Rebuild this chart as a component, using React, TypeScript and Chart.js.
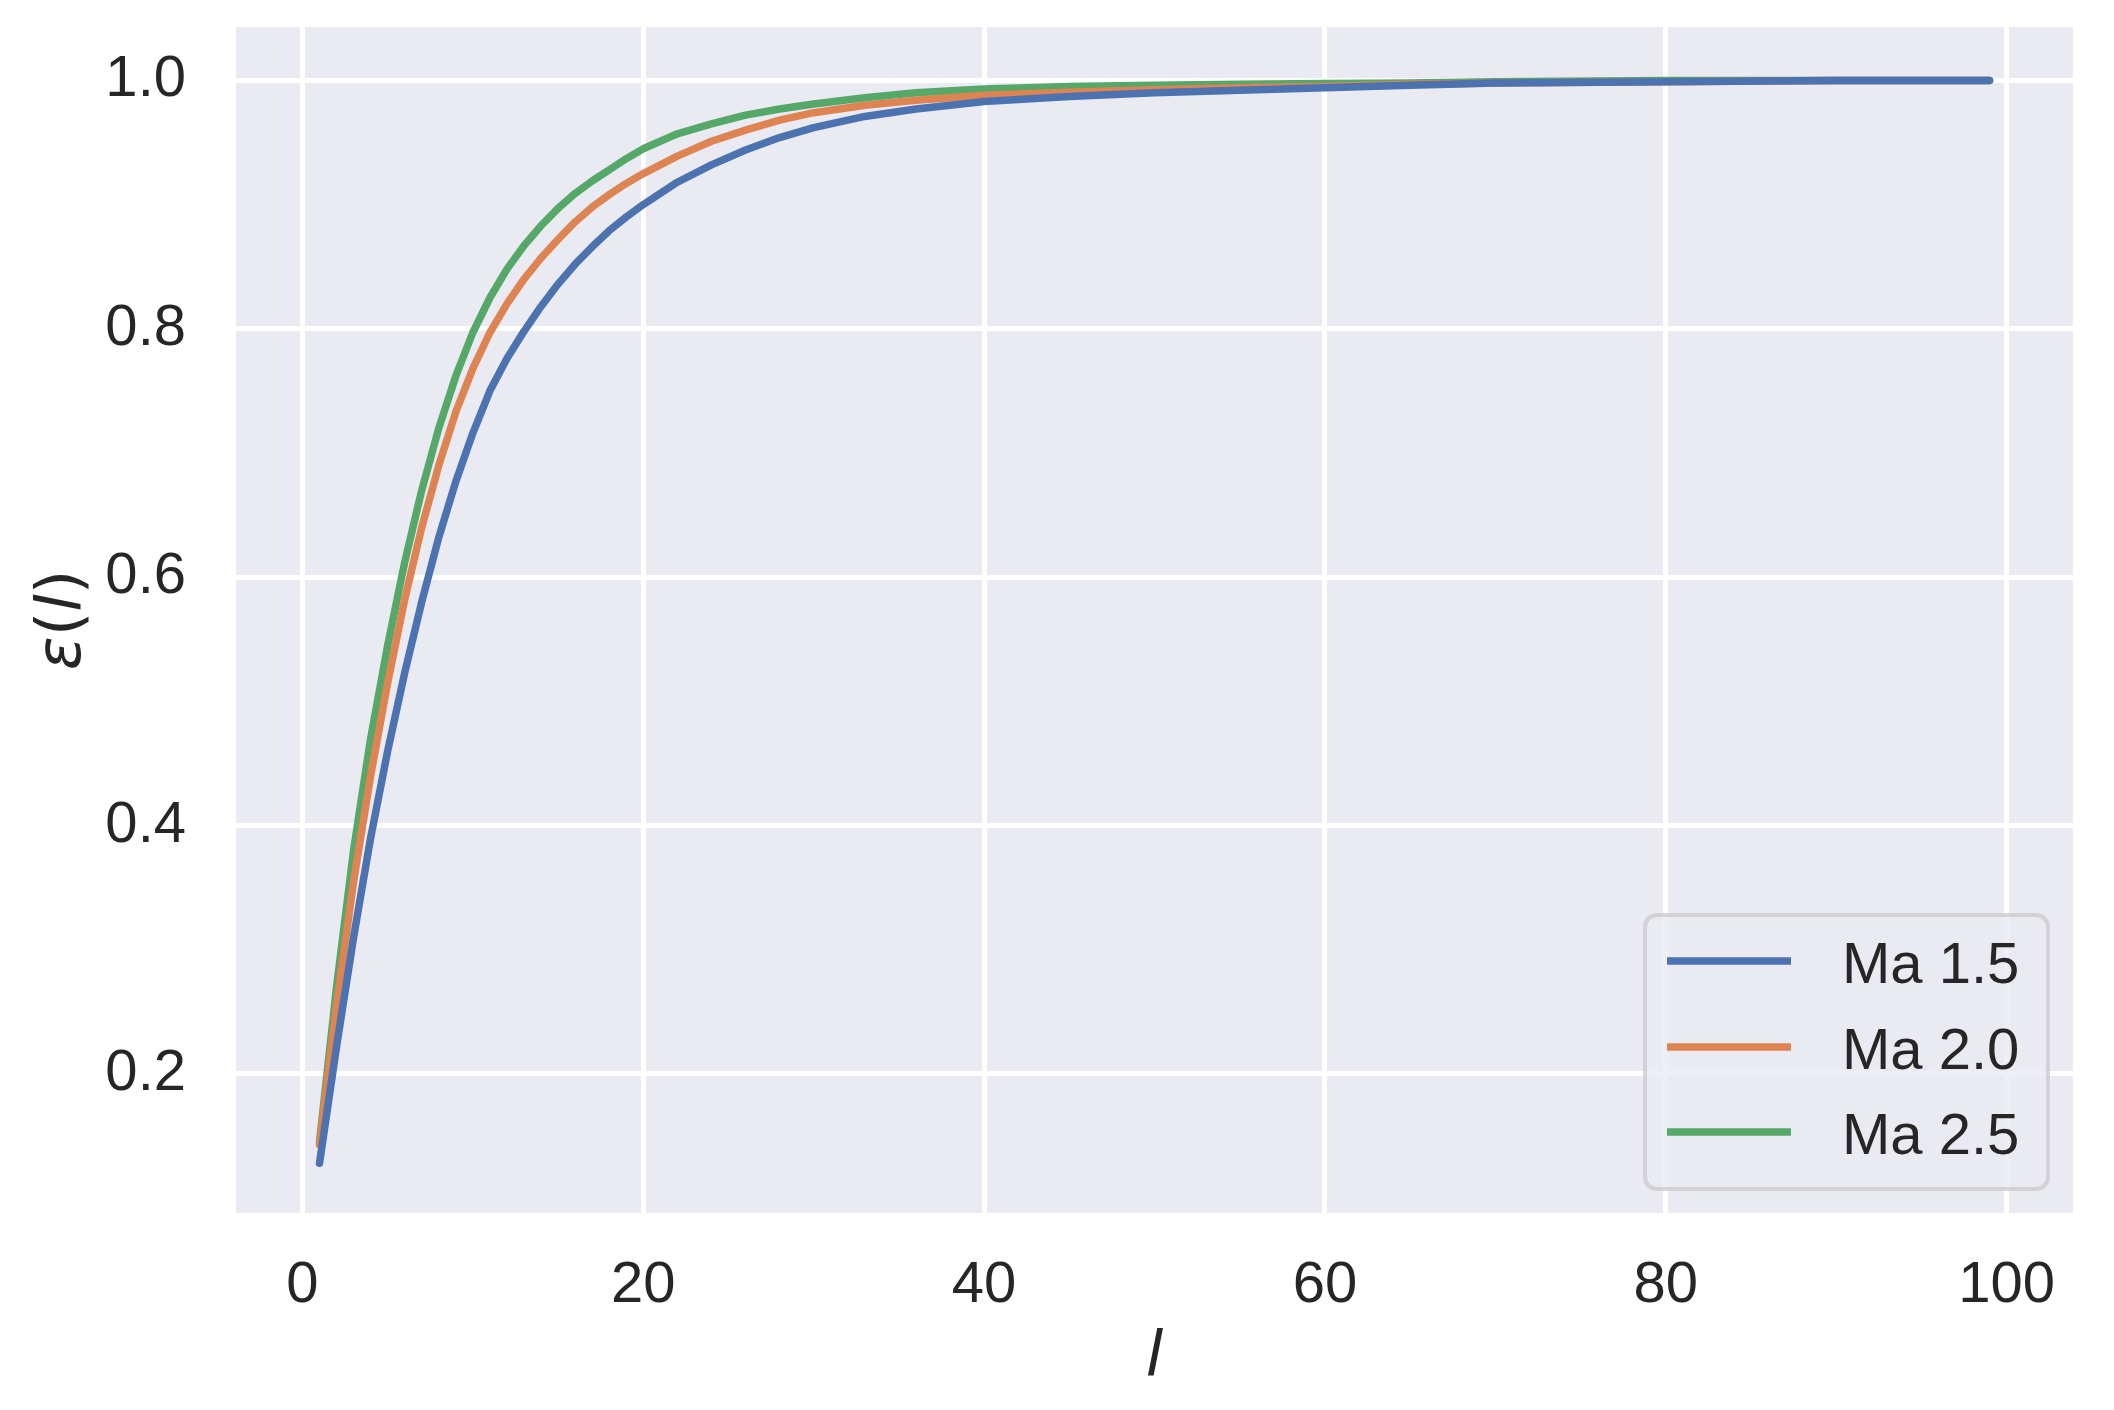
import React, { useEffect, useRef } from 'react';
import { Chart, registerables } from 'chart.js';

Chart.register(...registerables);

const lValues = [1, 2, 3, 4, 5, 6, 7, 8, 9, 10, 11, 12, 13, 14, 15, 16, 17, 18, 19, 20, 22, 24, 26, 28, 30, 33, 36, 40, 45, 50, 55, 60, 65, 70, 80, 90, 99];

const ma15 = [0.128, 0.222, 0.31, 0.39, 0.46, 0.523, 0.58, 0.632, 0.677, 0.716, 0.75, 0.776, 0.798, 0.818, 0.836, 0.852, 0.866, 0.879, 0.89, 0.9, 0.918, 0.932, 0.944, 0.954, 0.962, 0.971, 0.977, 0.983, 0.987, 0.99, 0.992, 0.994, 0.996, 0.998, 0.999, 1.0, 1.0];
const ma20 = [0.143, 0.255, 0.355, 0.44, 0.515, 0.582, 0.64, 0.69, 0.733, 0.768, 0.797, 0.82, 0.84, 0.857, 0.872, 0.886, 0.898, 0.908, 0.917, 0.925, 0.939, 0.951, 0.96, 0.968, 0.974, 0.98, 0.984, 0.988, 0.9905, 0.9925, 0.994, 0.995, 0.997, 0.998, 0.999, 1.0, 1.0];
const ma25 = [0.145, 0.27, 0.38, 0.47, 0.545, 0.612, 0.67, 0.72, 0.762, 0.797, 0.825, 0.848, 0.867, 0.883, 0.897, 0.909, 0.919, 0.928, 0.937, 0.945, 0.957, 0.965, 0.972, 0.977, 0.981, 0.986, 0.99, 0.993, 0.995, 0.996, 0.997, 0.9976, 0.998, 0.999, 1.0, 1.0, 1.0];

const seriesLabels = ['Ma 1.5', 'Ma 2.0', 'Ma 2.5'];
const seriesColors = ['#4C72B0', '#DD8452', '#55A868'];
const xTicks = [0, 20, 40, 60, 80, 100];
const yTicks = [0.2, 0.4, 0.6, 0.8, 1.0];

const TICK_FONT = '"Liberation Sans", Arial, sans-serif';
const MATH_FONT = '"DejaVu Sans", sans-serif';
const TEXT_COLOR = '#262626';

const decorPlugin = {
  id: 'decor',
  beforeDraw(chart: any) {
    const { ctx, chartArea } = chart;
    ctx.save();
    ctx.fillStyle = '#EAEAF2';
    ctx.fillRect(chartArea.left, chartArea.top, chartArea.right - chartArea.left, chartArea.bottom - chartArea.top);
    ctx.restore();
  },
  afterDraw(chart: any) {
    const { ctx, chartArea } = chart;
    ctx.save();
    ctx.fillStyle = TEXT_COLOR;
    ctx.textBaseline = 'alphabetic';
    ctx.textAlign = 'center';
    ctx.font = `italic 63px ${MATH_FONT}`;
    ctx.fillText('l', (chartArea.left + chartArea.right) / 2, chartArea.bottom + 162);

    const pieces: [string, boolean][] = [['ε', true], ['(', false], ['l', true], [')', false]];
    ctx.translate(chartArea.left - 156, (chartArea.top + chartArea.bottom) / 2);
    ctx.rotate(-Math.PI / 2);
    ctx.textAlign = 'left';
    let total = 0;
    const widths = pieces.map(([t, it]) => {
      ctx.font = `${it ? 'italic ' : ''}63px ${MATH_FONT}`;
      const w = ctx.measureText(t).width;
      total += w;
      return w;
    });
    let x = -total / 2;
    pieces.forEach(([t, it], i) => {
      ctx.font = `${it ? 'italic ' : ''}63px ${MATH_FONT}`;
      ctx.fillText(t, x, 0);
      x += widths[i];
    });
    ctx.restore();

    const boxW = 403;
    const boxH = 274;
    const bx = chartArea.right - 25 - boxW;
    const by = chartArea.bottom - 24 - boxH;
    ctx.save();
    ctx.beginPath();
    const r = 12;
    ctx.moveTo(bx + r, by);
    ctx.arcTo(bx + boxW, by, bx + boxW, by + boxH, r);
    ctx.arcTo(bx + boxW, by + boxH, bx, by + boxH, r);
    ctx.arcTo(bx, by + boxH, bx, by, r);
    ctx.arcTo(bx, by, bx + boxW, by, r);
    ctx.closePath();
    ctx.fillStyle = 'rgba(234,234,242,0.8)';
    ctx.fill();
    ctx.lineWidth = 4;
    ctx.strokeStyle = 'rgba(204,204,204,0.8)';
    ctx.stroke();
    const rows = [46, 132, 217];
    chart.data.datasets.forEach((ds: any, i: number) => {
      const y = by + rows[i];
      ctx.beginPath();
      ctx.moveTo(bx + 22, y);
      ctx.lineTo(bx + 146, y);
      ctx.strokeStyle = ds.borderColor;
      ctx.lineWidth = 7.5;
      ctx.lineCap = 'butt';
      ctx.stroke();
      ctx.fillStyle = TEXT_COLOR;
      ctx.font = `58px ${TICK_FONT}`;
      ctx.textAlign = 'left';
      ctx.textBaseline = 'alphabetic';
      ctx.fillText(ds.label, bx + 197, y + 22);
    });
    ctx.restore();
  },
};

export default function App() {
  const canvasRef = useRef<HTMLCanvasElement | null>(null);

  useEffect(() => {
    document.body.style.margin = '0';
    const canvas = canvasRef.current;
    if (!canvas) return;
    const series = [ma15, ma20, ma25];
    const chart = new Chart(canvas, {
      type: 'line',
      data: {
        datasets: series.map((s, i) => ({
          label: seriesLabels[i],
          data: lValues.map((x, j) => ({ x, y: s[j] })),
          borderColor: seriesColors[i],
          backgroundColor: seriesColors[i],
          borderWidth: 7.5,
          pointRadius: 0,
          tension: 0,
          borderCapStyle: 'round' as const,
          borderJoinStyle: 'round' as const,
          fill: false,
        })),
      },
      options: {
        responsive: false,
        animation: false,
        devicePixelRatio: 1,
        layout: { padding: { left: 0, top: 27, right: 41, bottom: 0 } },
        plugins: {
          legend: { display: false },
          tooltip: { enabled: false },
          title: { display: false },
        },
        scales: {
          x: {
            type: 'linear',
            min: -3.9,
            max: 103.9,
            afterFit: (scale: any) => {
              scale.height = 197;
              scale.paddingLeft = 0;
              scale.paddingRight = 0;
              scale.paddingTop = 0;
              scale.paddingBottom = 0;
            },
            afterBuildTicks: (scale: any) => { scale.ticks = xTicks.map((v) => ({ value: v })); },
            border: { display: false },
            grid: { color: '#FFFFFF', lineWidth: 5, drawTicks: false },
            ticks: {
              padding: 38,
              color: TEXT_COLOR,
              font: { family: TICK_FONT, size: 58 },
              callback: (v: any) => String(v),
              maxRotation: 0,
            },
          },
          y: {
            type: 'linear',
            min: 0.088,
            max: 1.043,
            afterFit: (scale: any) => {
              scale.width = 236;
              scale.paddingTop = 0;
              scale.paddingBottom = 0;
              scale.paddingLeft = 0;
              scale.paddingRight = 0;
            },
            afterBuildTicks: (scale: any) => { scale.ticks = yTicks.map((v) => ({ value: v })); },
            border: { display: false },
            grid: { color: '#FFFFFF', lineWidth: 5, drawTicks: false },
            ticks: {
              padding: 50,
              color: TEXT_COLOR,
              font: { family: TICK_FONT, size: 58 },
              callback: (v: any) => Number(v).toFixed(1),
            },
          },
        },
      },
      plugins: [decorPlugin],
    });
    return () => chart.destroy();
  }, []);

  return <canvas ref={canvasRef} width={2114} height={1410} style={{ display: 'block' }} />;
}
